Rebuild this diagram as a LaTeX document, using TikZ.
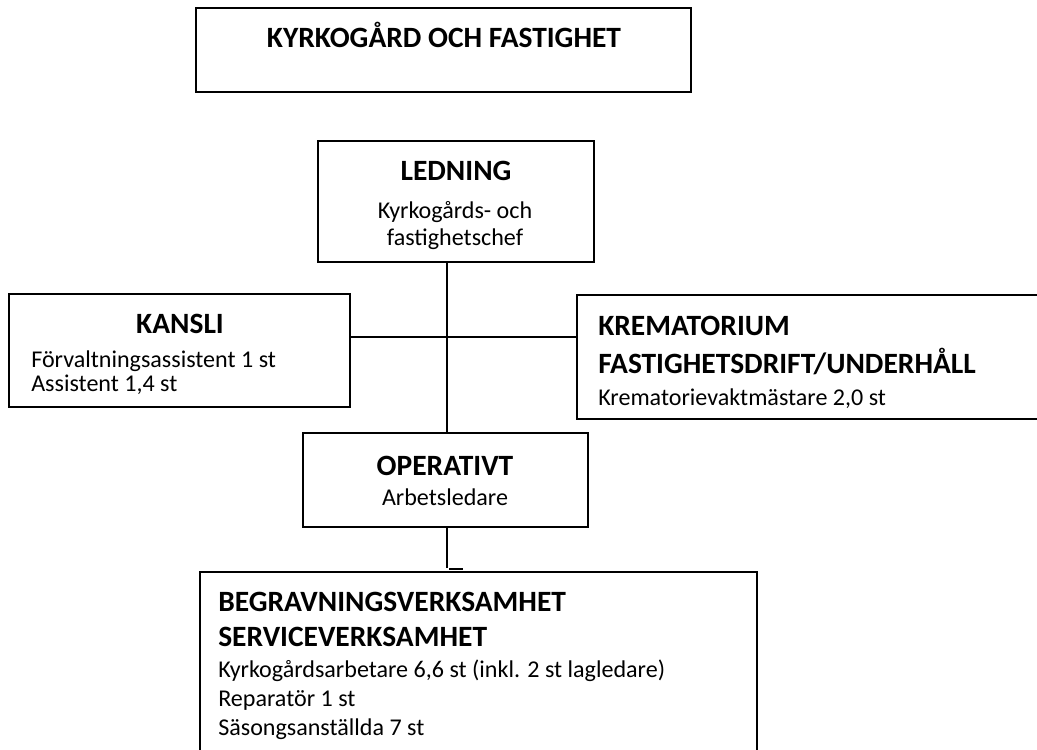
\documentclass[tikz,border=0pt]{standalone}
\usepackage{fontspec}
\setmainfont{Carlito}
\begin{document}
\begin{tikzpicture}[x=0.75pt,y=-0.75pt,
  box/.style={draw, line width=1.3pt, inner sep=0pt, outer sep=0pt, fill=white},
  conn/.style={line width=1.1pt},
  hd/.style={inner sep=0pt, font=\fontsize{22.1pt}{26pt}\selectfont\bfseries},
  bd/.style={inner sep=0pt, font=\fontsize{18.05pt}{21pt}\selectfont}]
\useasboundingbox (0,0) rectangle (1037,749);
\clip (0,0) rectangle (1037,749);
\fill[white] (0,0) rectangle (1037,749);

% connector helper coordinates
\coordinate (vx) at (447,0);
\coordinate (hy) at (0,337);
\coordinate (tickA) at (447,568);
\coordinate (tick1) at (449,569);
\coordinate (tick2) at (463,569);

% boxes
\node[box, minimum width=371.25pt, minimum height=63pt] (top) at (443.5,50) {};
\node[box, minimum width=207pt, minimum height=90.75pt] (led) at (456,201.5) {};
\node[box, minimum width=255.75pt, minimum height=84.75pt] (kansli) at (179.5,350.5) {};
\node[box, minimum width=362.25pt, minimum height=93pt] (krem) at (818.5,357) {};
\node[box, minimum width=213.75pt, minimum height=70.5pt] (op) at (445.5,480) {};
\node[box, minimum width=417.75pt, minimum height=156pt] (beg) at (478.5,676) {};

\draw[conn] (led.south -| vx) -- (op.north -| vx);
\draw[conn] (kansli.east |- hy) -- (krem.west |- hy);
\draw[conn] (op.south -| vx) -- (tickA);
\draw[conn] (tick1) -- (tick2);

% texts
\node[hd, anchor=base] (t1) at (444,48) {KYRKOGÅRD OCH FASTIGHET};

\node[hd, anchor=base] (l1) at (456,180) {LEDNING};
\node[bd, anchor=base] (l2) at (455,218) {Kyrkogårds- och};
\node[bd, anchor=base] (l3) at (455,245) {fastighetschef};

\node[hd, anchor=base] (k1) at (180,333) {KANSLI};
\node[bd, anchor=base west] (k2) at (31,367) {Förvaltningsassistent 1 st};
\node[bd, anchor=base west] (k3) at (31,391) {Assistent 1,4 st};

\node[hd, anchor=base west] (r1) at (598,335) {KREMATORIUM};
\node[hd, anchor=base west] (r2) at (598,373) {FASTIGHETSDRIFT/UNDERHÅLL};
\node[bd, anchor=base west] (r3) at (598,405) {Krematorievaktmästare 2,0 st};

\node[hd, anchor=base] (o1) at (445,475) {OPERATIVT};
\node[bd, anchor=base] (o2) at (445,505) {Arbetsledare};

\node[hd, anchor=base west] (b1) at (218,611) {BEGRAVNINGSVERKSAMHET};
\node[hd, anchor=base west] (b2) at (218,646) {SERVICEVERKSAMHET};
\node[bd, anchor=base west] (b3) at (218,677) {Kyrkogårdsarbetare 6,6 st (inkl. 2 st lagledare)};
\node[bd, anchor=base west] (b4) at (218,706) {Reparatör 1 st};
\node[bd, anchor=base west] (b5) at (218,735) {Säsongsanställda 7 st};
\end{tikzpicture}
\end{document}
